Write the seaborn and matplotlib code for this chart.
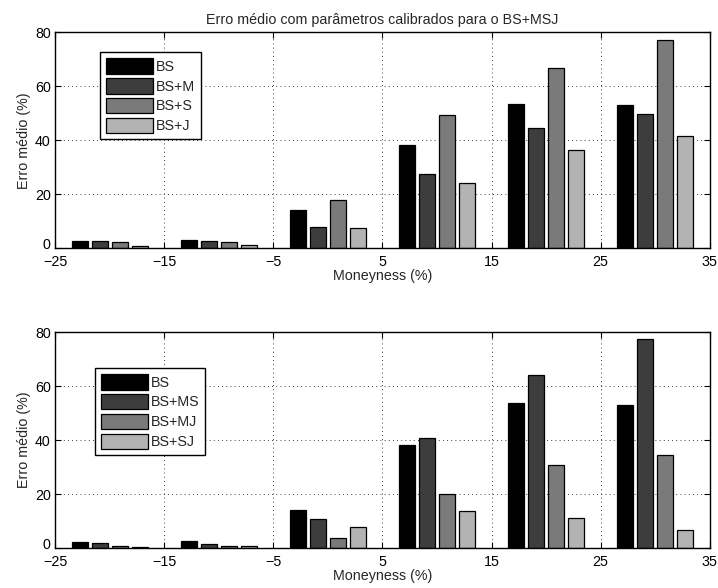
import matplotlib.pyplot as plt
import matplotlib.transforms as mtransforms
import numpy as np
import pandas as pd
import seaborn as sns

moneyness = [-20, -10, 0, 10, 20, 30]

# painel superior
top_models = ["BS", "BS+M", "BS+S", "BS+J"]
top_bs = [2.6, 3.0, 14.1, 38.4, 53.6, 53.2]
top_bs_m = [2.5, 2.5, 8.0, 27.3, 44.6, 49.6]
top_bs_s = [2.1, 2.2, 17.7, 49.5, 66.9, 77.0]
top_bs_j = [0.9, 1.2, 7.5, 24.2, 36.2, 41.5]

# painel inferior
bot_models = ["BS", "BS+MS", "BS+MJ", "BS+SJ"]
bot_bs = [2.3, 2.7, 14.0, 38.1, 53.6, 53.1]
bot_bs_ms = [1.7, 1.5, 10.6, 40.7, 64.1, 77.4]
bot_bs_mj = [0.6, 0.6, 3.6, 20.0, 30.6, 34.3]
bot_bs_sj = [0.5, 0.9, 7.7, 13.6, 11.0, 6.7]

colors = ["#000000", "#3d3d3d", "#7a7a7a", "#b3b3b3"]
FS = 10.3


def make_frame(models, series):
    rows = []
    for model, values in zip(models, series):
        for m, v in zip(moneyness, values):
            rows.append({"moneyness": m, "erro": v, "modelo": model})
    return pd.DataFrame(rows)


sns.set_style("ticks")
plt.rcParams["font.family"] = ["Liberation Sans", "DejaVu Sans"]
plt.rcParams["font.size"] = FS

fig = plt.figure(figsize=(7.18, 5.88), dpi=100)
ax_top = fig.add_axes([0.0766, 0.578, 0.912, 0.367])
ax_bot = fig.add_axes([0.0766, 0.068, 0.912, 0.367])

panels = [
    (ax_top, top_models, [top_bs, top_bs_m, top_bs_s, top_bs_j], (0.069, 0.907)),
    (ax_bot, bot_models, [bot_bs, bot_bs_ms, bot_bs_mj, bot_bs_sj], (0.061, 0.833)),
]

for ax, models, series, anchor in panels:
    df = make_frame(models, series)
    sns.barplot(
        data=df, x="moneyness", y="erro", hue="modelo", hue_order=models,
        palette=colors, native_scale=True, width=0.733, gap=0.2,
        edgecolor="black", linewidth=0.9, ax=ax,
    )
    ax.set_xlim(-25, 35)
    ax.set_ylim(0, 80)
    ax.set_xticks(np.arange(-25, 36, 10))
    ax.set_yticks([0, 20, 40, 60, 80])
    ax.grid(True, linestyle=(0, (1, 4)), color="black", linewidth=0.6)
    ax.set_axisbelow(True)
    ax.tick_params(direction="in", top=True, right=True, length=4, width=0.8,
                   labelsize=FS, colors="black")
    ax.tick_params(axis="x", pad=5)
    ax.tick_params(axis="y", pad=3)
    for label in ax.get_yticklabels():
        label.set_verticalalignment("center_baseline")
    # o "0" do eixo y fica encostado ao "-25" do eixo x: sobe-o um pouco
    zero = ax.yaxis.get_major_ticks()[0].label1
    zero.set_transform(zero.get_transform()
                       + mtransforms.ScaledTranslation(0, 3 / 72, fig.dpi_scale_trans))
    for spine in ax.spines.values():
        spine.set_visible(True)
        spine.set_color("black")
        spine.set_linewidth(1.0)
    ax.set_xlabel("Moneyness (%)", fontsize=FS, labelpad=0)
    ax.set_ylabel("Erro médio (%)", fontsize=FS, labelpad=3)

    old = ax.get_legend()
    handles = old.legend_handles
    labels = [t.get_text() for t in old.get_texts()]
    old.remove()
    leg = ax.legend(
        handles, labels, loc="upper left", bbox_to_anchor=anchor,
        borderaxespad=0, fontsize=FS, fancybox=False, framealpha=1,
        edgecolor="black", handlelength=3.3, handleheight=1.3,
        handletextpad=0.2, labelspacing=0.3, borderpad=0.4,
    )
    leg.get_frame().set_linewidth(1.0)

ax_top.set_title("Erro médio com parâmetros calibrados para o BS+MSJ",
                 fontsize=FS, pad=6)

fig.savefig("out.png", dpi=100)
